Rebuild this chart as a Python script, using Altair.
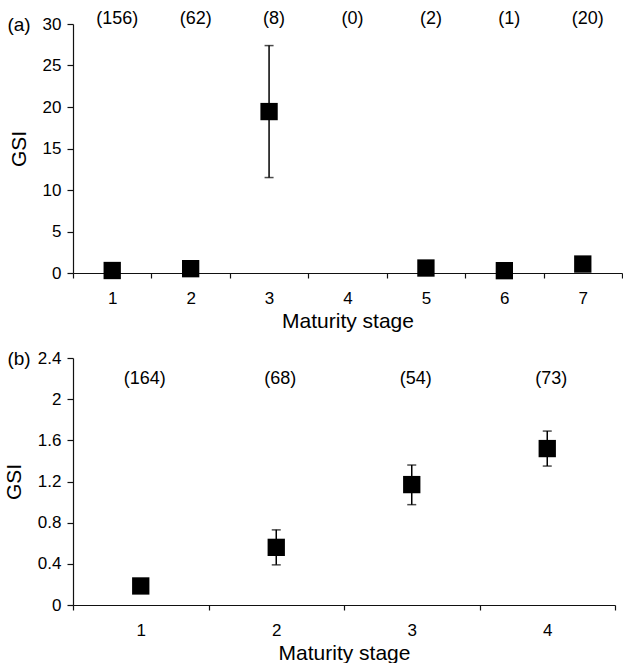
import altair as alt
import pandas as pd

# ---- Panel (a) data ----
stages_a = ["1", "2", "3", "4", "5", "6", "7"]
gsi_a = [0.3, 0.52, 19.45, None, 0.6, 0.28, 1.08]
lo_a = [None, None, 11.5, None, None, None, None]
hi_a = [None, None, 27.4, None, None, None, None]
n_a = ["(156)", "(62)", "(8)", "(0)", "(2)", "(1)", "(20)"]
yticks_a = [0, 5, 10, 15, 20, 25, 30]

# ---- Panel (b) data ----
stages_b = ["1", "2", "3", "4"]
gsi_b = [0.185, 0.56, 1.17, 1.52]
lo_b = [None, 0.39, 0.975, 1.35]
hi_b = [None, 0.73, 1.36, 1.69]
n_b = ["(164)", "(68)", "(54)", "(73)"]
yticks_b = [0, 0.4, 0.8, 1.2, 1.6, 2.0, 2.4]

FONT = "Liberation Sans"


def panel(stages, gsi, lo, hi, ns, yticks, ymax, label_y, tag, width, height, dx):
    df = pd.DataFrame({"stage": stages, "gsi": gsi, "lo": lo, "hi": hi, "n": ns})
    x = alt.X(
        "stage:N",
        sort=stages,
        scale=alt.Scale(domain=stages, paddingInner=0, paddingOuter=0),
        axis=alt.Axis(
            title="Maturity stage",
            tickBand="extent",
            labelAngle=0,
            tickSize=5,
            labelPadding=12,
            titlePadding=4,
        ),
    )
    yscale = alt.Scale(domain=[0, ymax], nice=False, zero=True)
    yaxis = alt.Axis(
        title="GSI",
        values=yticks,
        format="~g",
        grid=False,
        tickSize=6,
        labelPadding=6,
        titlePadding=13,
    )
    base = alt.Chart(df)
    rules = base.mark_rule(color="black", strokeWidth=1.5).encode(
        x=x, y=alt.Y("lo:Q", scale=yscale, axis=yaxis), y2="hi:Q"
    )
    caps_hi = base.mark_tick(color="black", size=9, thickness=1.5).encode(
        x=x, y=alt.Y("hi:Q", scale=yscale)
    )
    caps_lo = base.mark_tick(color="black", size=9, thickness=1.5).encode(
        x=x, y=alt.Y("lo:Q", scale=yscale)
    )
    squares = base.mark_square(color="black", size=300, opacity=1, filled=True).encode(
        x=x, y=alt.Y("gsi:Q", scale=yscale, axis=yaxis)
    )
    counts = base.mark_text(
        font=FONT, fontSize=18, color="black", baseline="middle", align="center", dx=dx
    ).encode(x=x, y=alt.datum(label_y), text="n:N")
    tag_text = alt.Chart(pd.DataFrame({"t": [tag]})).mark_text(
        font=FONT, fontSize=19, color="black", baseline="middle", align="center"
    ).encode(x=alt.value(-54), y=alt.value(1), text="t:N")
    return alt.layer(rules, caps_hi, caps_lo, squares, counts, tag_text).properties(
        width=width, height=height
    )


top = panel(stages_a, gsi_a, lo_a, hi_a, n_a, yticks_a, 30, 30.65, "(a)", 549, 249, 5)
bottom = panel(stages_b, gsi_b, lo_b, hi_b, n_b, yticks_b, 2.4, 2.2, "(b)", 542, 247, 4)

chart = (
    alt.vconcat(top, bottom, spacing=18)
    .properties(padding={"left": 3, "top": 9, "right": 0, "bottom": 0})
    .configure_view(stroke=None)
    .configure_axis(
        labelFont=FONT,
        titleFont=FONT,
        labelFontSize=17,
        titleFontSize=21,
        titleFontWeight="normal",
        labelColor="black",
        titleColor="black",
        domainColor="#111111",
        tickColor="#111111",
        domainWidth=1.2,
        tickWidth=1.2,
    )
)

chart.save("out.html", embed_options={"renderer": "svg", "actions": False})
